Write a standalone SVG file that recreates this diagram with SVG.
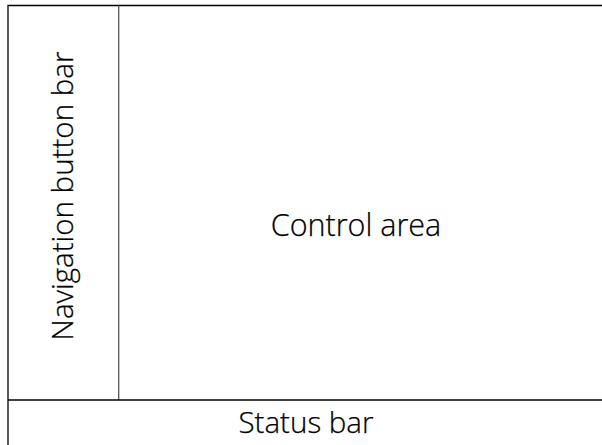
<svg xmlns="http://www.w3.org/2000/svg" width="602" height="445" viewBox="0 0 602 445">
<style>
.ln{stroke:#000;stroke-width:1.3;fill:none}
.dv{stroke:#555;stroke-width:1.3;fill:none}
.t{font-family:"Open Sans","DejaVu Sans",sans-serif;font-weight:300;font-size:29.5px;fill:#000;stroke:#000;stroke-width:0.25;text-anchor:middle}
</style>
<rect width="602" height="445" fill="#fff"/>
<g id="connectors">
<path class="ln" d="M8,460 V5.5 H610"/>
<path class="dv" d="M118.7,5.5 V400"/>
<path class="ln" d="M8,400 H610"/>
</g>
<g id="nav"><text class="t" transform="translate(73,196) rotate(-90)">Navigation button bar</text></g>
<g id="control"><text class="t" style="font-size:30.5px" x="356" y="236">Control area</text></g>
<g id="status"><text class="t" x="306" y="433">Status bar</text></g>
</svg>
